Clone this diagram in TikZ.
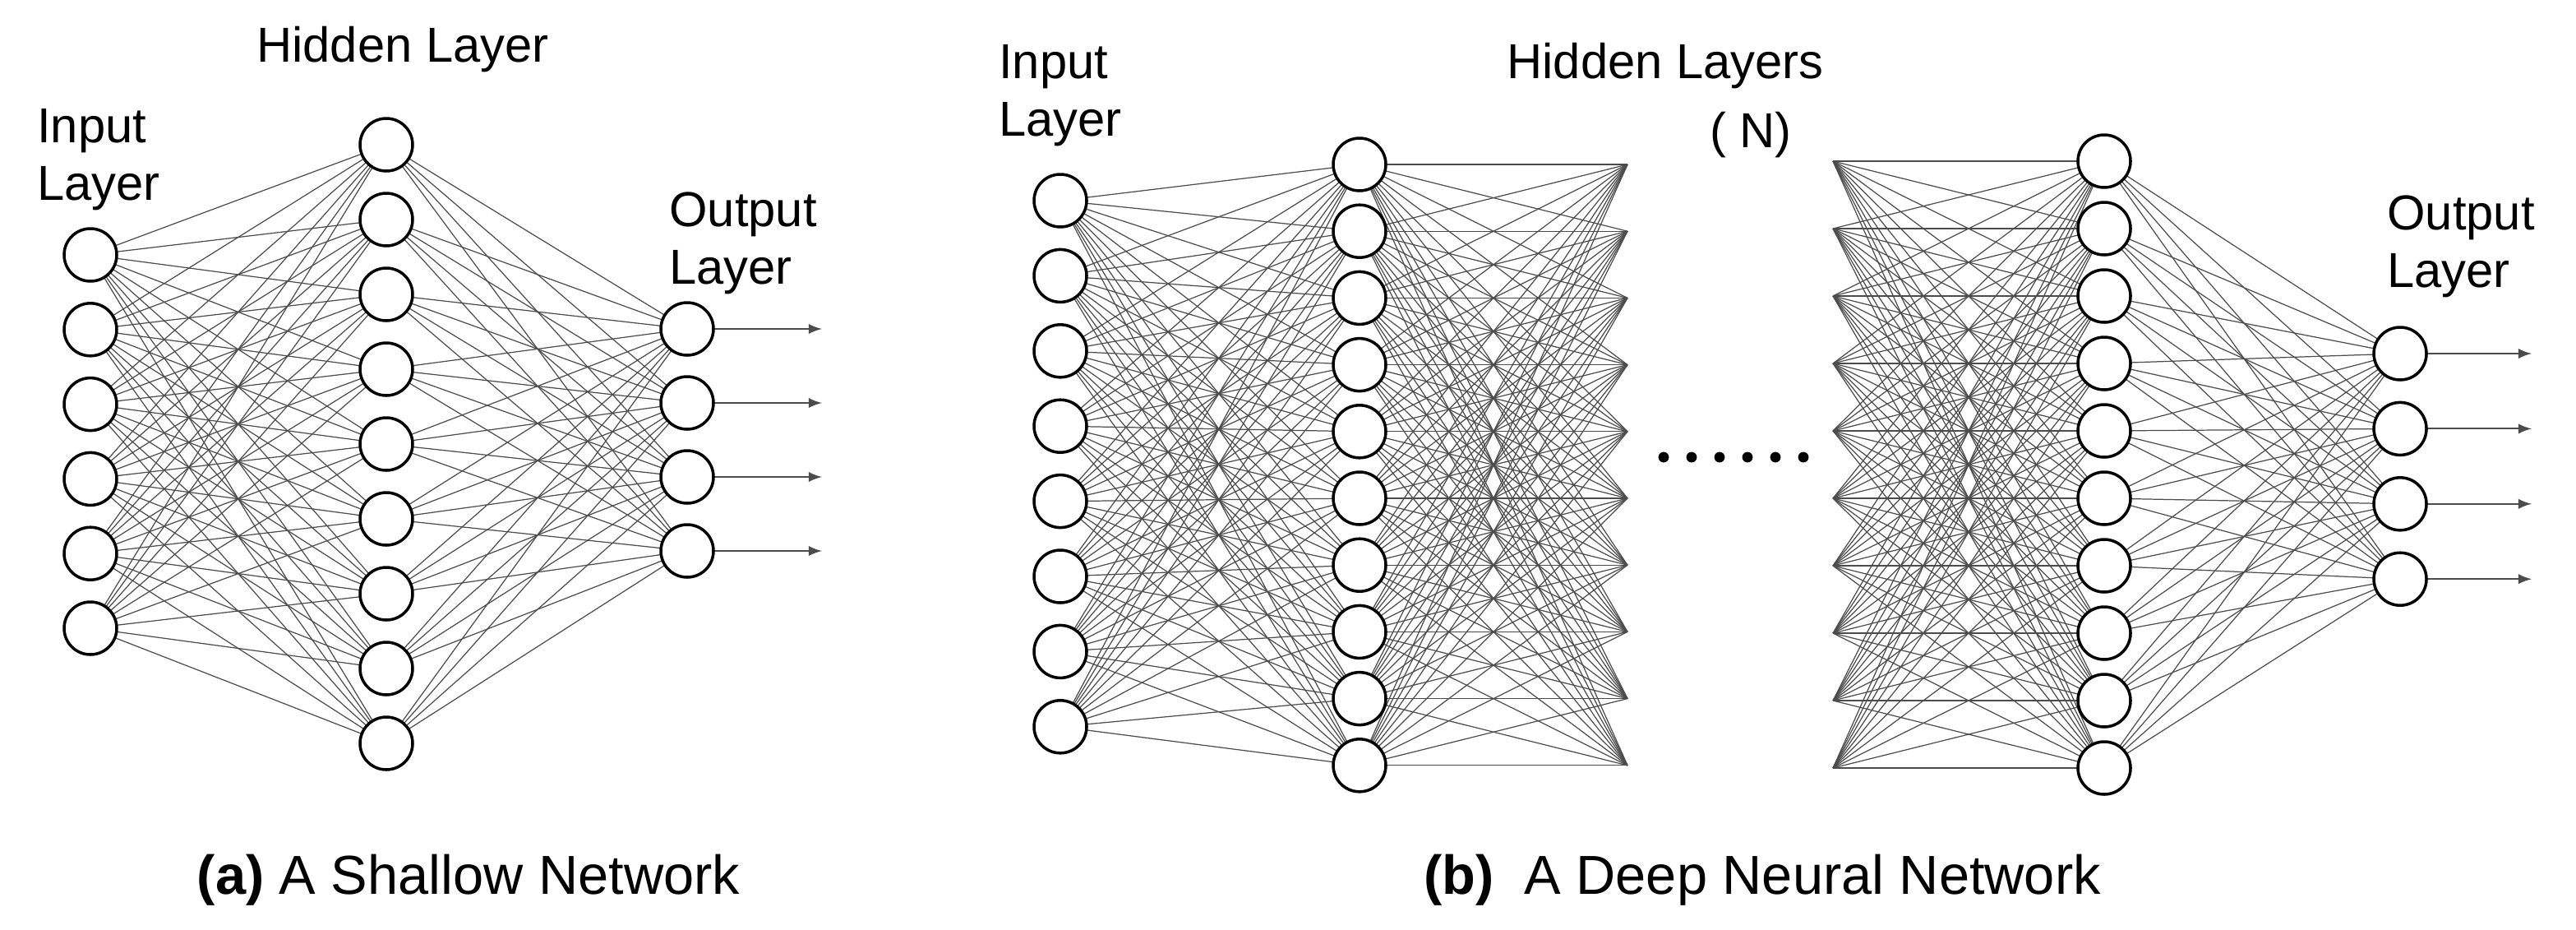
\documentclass[tikz,border=0pt]{standalone}
\usepackage{fontspec}
\setmainfont{Liberation Sans}
\usetikzlibrary{positioning}
\tikzset{
    neuron/.style={circle,draw=black,fill=white,line width=1pt,
        minimum size=0.64cm,inner sep=0pt},
    wire/.style={draw=black!70,line width=0.35pt},
    outarrow/.style={-latex,draw=black!70,line width=0.6pt},
    lbl/.style={font=\fontsize{17}{20}\selectfont,align=left},
    caption/.style={font=\fontsize{19}{22}\selectfont}
}
\begin{document}
\begin{tikzpicture}[x=0.02cm,y=-0.02cm]
\useasboundingbox (0,0) rectangle (1567,565);

% (a) shallow network
\foreach \i in {1,...,6} \coordinate (ai\i) at (55,{155+(\i-1)*45.4});
\foreach \i in {1,...,9} \coordinate (ah\i) at (235,{88+(\i-1)*45.5});
\foreach \i in {1,...,4} \coordinate (ao\i) at (418,{200+(\i-1)*45});
\foreach \i in {1,...,6} \foreach \j in {1,...,9} \path[wire] (ai\i) -- (ah\j);
\foreach \i in {1,...,9} \foreach \j in {1,...,4} \path[wire] (ah\i) -- (ao\j);
\foreach \i in {1,...,4} {
  \coordinate (aend\i) at (500,{200+(\i-1)*45});
  \draw[outarrow] (ao\i) -- (aend\i);
}
\foreach \i in {1,...,6} \node[neuron] (nai\i) at (ai\i) {};
\foreach \i in {1,...,9} \node[neuron] (nah\i) at (ah\i) {};
\foreach \i in {1,...,4} \node[neuron] (nao\i) at (ao\i) {};

\node[lbl] (ain) at (60,97) {Input\\Layer};
\node[lbl] (ahid) at (245,30) {Hidden Layer};
\node[lbl] (aout) at (452,148) {Output\\Layer};
\node[caption] (acap) at (285,535) {\textbf{(a)} A Shallow Network};

% (b) deep network
\foreach \i in {1,...,8} \coordinate (bi\i) at (645,{122+(\i-1)*45.7});
\foreach \i in {1,...,10} {
  \coordinate (bh\i) at (827,{100+(\i-1)*40.6});
  \coordinate (bl\i) at (1280,{98+(\i-1)*41});
  \coordinate (bfa\i) at (990,{100+(\i-1)*40.6});
  \coordinate (bfb\i) at (1115,{98+(\i-1)*41});
}
\foreach \i in {1,...,4} \coordinate (bo\i) at (1460,{215+(\i-1)*45.7});
\foreach \i in {1,...,8} \foreach \j in {1,...,10} \path[wire] (bi\i) -- (bh\j);
\foreach \i in {1,...,10} \foreach \j in {1,...,10} {
  \path[wire] (bh\i) -- (bfa\j);
  \path[wire] (bfb\i) -- (bl\j);
}
\foreach \i in {1,...,10} \foreach \j in {1,...,4} \path[wire] (bl\i) -- (bo\j);
\foreach \i in {1,...,4} {
  \coordinate (bend\i) at (1540,{215+(\i-1)*45.7});
  \draw[outarrow] (bo\i) -- (bend\i);
}
\foreach \i in {1,...,8} \node[neuron] (nbi\i) at (bi\i) {};
\foreach \i in {1,...,10} {
  \node[neuron] (nbh\i) at (bh\i) {};
  \node[neuron] (nbl\i) at (bl\i) {};
}
\foreach \i in {1,...,4} \node[neuron] (nbo\i) at (bo\i) {};
\foreach \k in {0,...,5} \fill (1012+\k*17,278) circle (3.2);

\node[lbl] (bin) at (645,58) {Input\\Layer};
\node[lbl] (bhid) at (1013,40) {Hidden Layers};
\node[lbl] (bn) at (1065,82) {( N)};
\node[lbl] (bout) at (1497,150) {Output\\Layer};
\node[caption] (bcap) at (1072,535) {\textbf{(b)}\ \ A Deep Neural Network};
\end{tikzpicture}
\end{document}
